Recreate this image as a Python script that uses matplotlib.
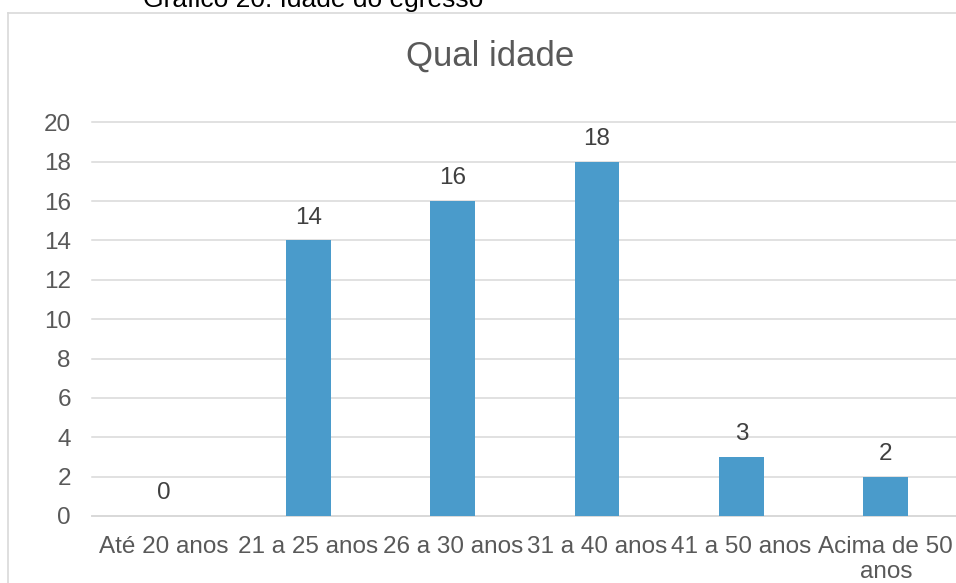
import matplotlib
matplotlib.use("Agg")
import matplotlib.pyplot as plt
from matplotlib.lines import Line2D

plt.rcParams['font.family'] = ['Liberation Sans', 'DejaVu Sans']

categories = ["Até 20 anos", "21 a 25 anos", "26 a 30 anos", "31 a 40 anos",
              "41 a 50 anos", "Acima de 50\nanos"]
values = [0, 14, 16, 18, 3, 2]
yticks = list(range(0, 21, 2))

W, H = 956, 583
fig = plt.figure(figsize=(W / 100, H / 100), dpi=100)
fig.patch.set_facecolor("white")

# outer chart border (left and top visible)
bx = 7.5 / W
by = 1 - 12.5 / H
fig.add_artist(Line2D([bx, bx], [-0.05, by], transform=fig.transFigure,
                      color="#D9D9D9", lw=1.2))
fig.add_artist(Line2D([bx, 1.05], [by, by], transform=fig.transFigure,
                      color="#D9D9D9", lw=1.2))

# caption above the chart (partly cut off at the top, as in the source)
fig.text(143 / W, 1 - 7 / H, "Gráfico 20: Idade do egresso", fontsize=19,
         color="black", ha="left", va="baseline")

left = 91.7 / W
right = 958 / W
bottom = (H - 516) / H
top = (H - 122.3) / H
ax = fig.add_axes([left, bottom, right - left, top - bottom])

x = list(range(len(categories)))
ax.bar(x, values, width=0.31, color="#4A9BCB", zorder=3)

for xi, v in zip(x, values):
    ax.annotate(str(v), (xi, v), xytext=(0, 8.5), textcoords="offset points",
                ha="center", va="bottom", fontsize=17.5, color="#404040")

ax.set_xlim(-0.5, len(categories) - 0.5)
ax.set_ylim(0, 20)
ax.set_yticks(yticks)
ax.set_xticks(x)
ax.set_xticklabels(categories, linespacing=1.15)
ax.yaxis.grid(True, color="#D9D9D9", lw=1.1, zorder=0)
ax.set_axisbelow(True)
for gl in ax.yaxis.get_gridlines():
    gl.set_clip_on(False)

for s in ["top", "right", "left"]:
    ax.spines[s].set_visible(False)
ax.spines["bottom"].set_color("#D9D9D9")
ax.spines["bottom"].set_linewidth(1.3)

ax.tick_params(axis="both", length=0, labelsize=17.5, labelcolor="#595959")
ax.tick_params(axis="x", pad=14.5)
ax.tick_params(axis="y", pad=15)

fig.text(490 / W, 1 - 56 / H, "Qual idade", fontsize=25, color="#595959",
         ha="center", va="center")

fig.savefig("out.png", dpi=100, facecolor="white")
